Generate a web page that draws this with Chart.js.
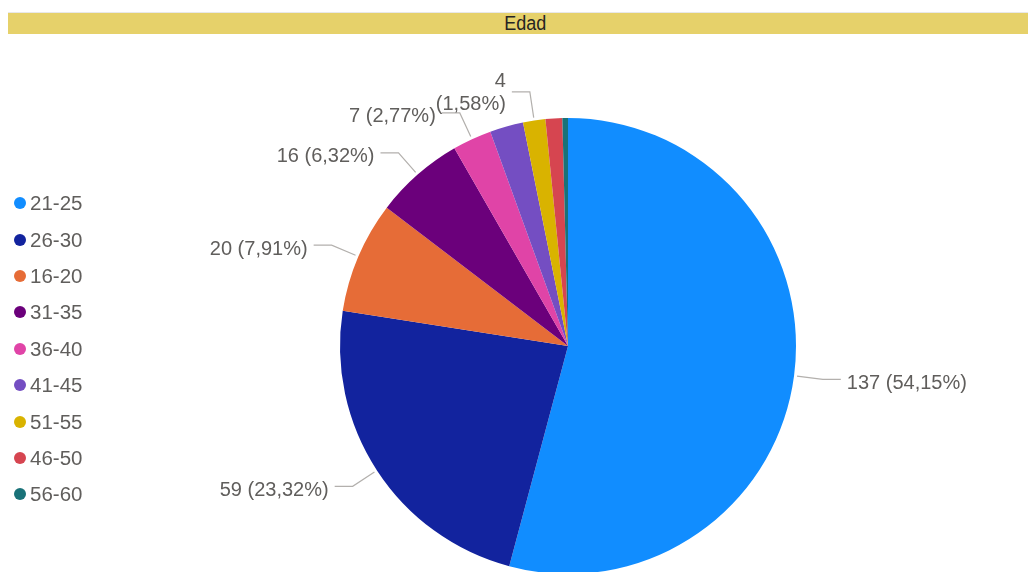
<!DOCTYPE html>
<html>
<head>
<meta charset="utf-8">
<script src="https://cdn.jsdelivr.net/npm/chart.js@4/dist/chart.umd.min.js"></script>
<style>
  html, body { margin: 0; padding: 0; background: #fff; overflow: hidden; width: 1028px; height: 572px; }
  #wrap { position: relative; width: 1028px; height: 600px; }
  #title { position: absolute; left: 8px; top: 12px; width: 1020px; height: 22px; background: #e6d16a;
    border-top: 1px solid #e8e8e8; box-sizing: border-box; text-align: center; overflow: hidden; }
  #title span { display: inline-block; margin-left: 14px; transform: scaleX(0.9);
    font-family: "Liberation Sans", Arial, sans-serif; font-size: 20px; color: #252423; line-height: 21px; }
  #legend { position: absolute; left: 14px; top: 185px; font-family: "Liberation Sans", Arial, sans-serif; font-size: 20.5px; color: #605e5c; }
  #legend .item { height: 36.4px; display: flex; align-items: center; }
  #legend .dot { width: 12px; height: 12px; border-radius: 50%; margin-right: 4px; }
  canvas { position: absolute; left: 0; top: 0; }
</style>
</head>
<body>
<div id="wrap">
  <canvas id="c" width="1028" height="600"></canvas>
  <div id="title"><span>Edad</span></div>
  <div id="legend"></div>
</div>
<script>
const categories = ['21-25', '26-30', '16-20', '31-35', '36-40', '41-45', '51-55', '46-50', '56-60'];
const counts = [137, 59, 20, 16, 7, 6, 4, 3, 1];
const colors = ['#118DFF', '#12239E', '#E66C37', '#6B007B', '#E044A7', '#744EC2', '#D9B300', '#D64550', '#197278'];
const labelledCategories = ['21-25', '26-30', '16-20', '31-35', '36-40', '51-55'];
const wrappedCategories = ['51-55'];

const total = counts.reduce((a, b) => a + b, 0);
function pctText(v) { return (v / total * 100).toFixed(2).replace('.', ','); }

// HTML legend built from the arrays
const leg = document.getElementById('legend');
categories.forEach((c, i) => {
  const it = document.createElement('div'); it.className = 'item';
  const d = document.createElement('span'); d.className = 'dot'; d.style.background = colors[i];
  const t = document.createElement('span'); t.textContent = c;
  it.appendChild(d); it.appendChild(t); leg.appendChild(it);
});

const outLabels = {
  id: 'outLabels',
  afterDatasetsDraw(chart) {
    const ctx = chart.ctx;
    const meta = chart.getDatasetMeta(0);
    ctx.save();
    ctx.font = '20px "Liberation Sans", Arial, sans-serif';
    ctx.fillStyle = '#605e5c';
    ctx.strokeStyle = '#b3b0ad';
    ctx.lineWidth = 1.2;
    meta.data.forEach((arc, i) => {
      const cat = categories[i];
      if (!labelledCategories.includes(cat)) return;
      const p = arc.getProps(['x', 'y', 'startAngle', 'endAngle', 'outerRadius'], true);
      const mid = (p.startAngle + p.endAngle) / 2;
      const cs = Math.cos(mid), sn = Math.sin(mid);
      const r = p.outerRadius;
      const x1 = p.x + cs * (r + 3), y1 = p.y + sn * (r + 3);
      const x2 = p.x + cs * (r + 29), y2 = p.y + sn * (r + 29);
      const dir = cs >= 0 ? 1 : -1;
      const x3 = x2 + dir * 18;
      ctx.beginPath();
      ctx.moveTo(x1, y1); ctx.lineTo(x2, y2); ctx.lineTo(x3, y2);
      ctx.stroke();
      ctx.textAlign = dir > 0 ? 'left' : 'right';
      ctx.textBaseline = 'middle';
      const tx = x3 + dir * 6;
      const v = counts[i];
      if (wrappedCategories.includes(cat)) {
        ctx.fillText(String(v), tx, y2 - 10);
        ctx.fillText('(' + pctText(v) + '%)', tx, y2 + 13);
      } else {
        ctx.fillText(v + ' (' + pctText(v) + '%)', tx, y2 + 4);
      }
    });
    ctx.restore();
  }
};

new Chart(document.getElementById('c'), {
  type: 'pie',
  data: {
    labels: categories,
    datasets: [{ data: counts, backgroundColor: colors, borderWidth: 0 }]
  },
  options: {
    responsive: false,
    animation: false,
    layout: { padding: { left: 340, right: 232, top: 118, bottom: 26 } },
    plugins: { legend: { display: false }, tooltip: { enabled: false } }
  },
  plugins: [outLabels]
});
</script>
</body>
</html>
